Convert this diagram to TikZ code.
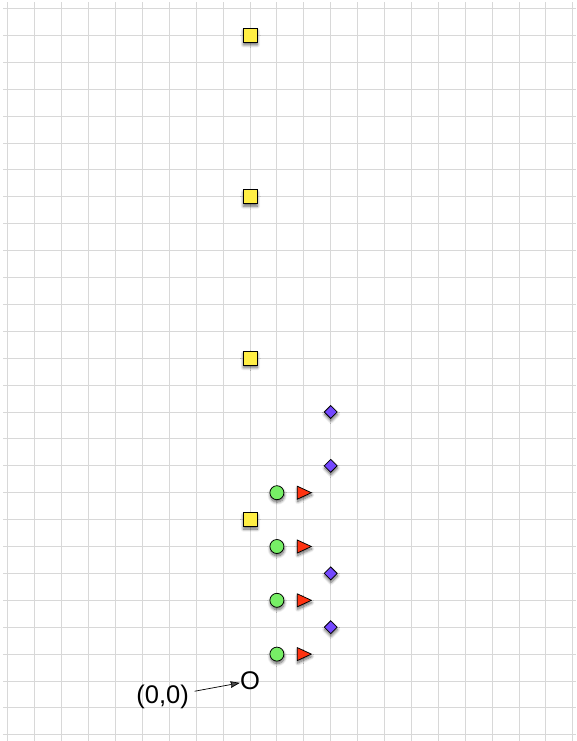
\documentclass[tikz,border=0pt]{standalone}
\usepackage{fontspec}
\setmainfont{Liberation Sans}
\usepackage{xcolor}
\definecolor{rejilla}{HTML}{D8D8D8}
\definecolor{amarillo}{HTML}{FFEE44}
\definecolor{verdeClaro}{HTML}{77EE66}
\definecolor{rojoVivo}{HTML}{FF3311}
\definecolor{morado}{HTML}{7448FF}
\usepackage{tikz}
\usetikzlibrary{arrows.meta,shadows.blur}

\begin{document}
\begin{tikzpicture}[x=1cm, y=1cm,
    every node/.style={font=\fontsize{27}{30}\selectfont},
    sombra/.style={blur shadow={shadow xshift=0.4pt, shadow yshift=-2.6pt,
        shadow blur radius=3pt, shadow blur steps=8, shadow opacity=60}},
    marca/.style={draw=black, line width=0.8pt, sombra}]

  \def\XL{-9.294}   % borde izquierdo
  \def\XR{12.119}   % borde derecho
  \def\YB{-2.230}   % borde inferior
  \def\YT{25.316}   % borde superior
  \useasboundingbox (\XL,\YB) rectangle (\XR,\YT);

  % ── Rejilla ───────────────────────────────────────────────
  \foreach \x in {-9,...,12}{
    \draw[rejilla, line width=1pt] (\x,\YB) -- (\x,25.24);
  }
  \foreach \y in {-2,...,25}{
    \draw[rejilla, line width=1pt] (-9.18,\y) -- (\XR,\y);
  }

  % ── Cuadrados ─────────────────────────────────────────────
  \foreach \y in {6,12,18,24}{
    \filldraw[marca, fill=amarillo]
      (-0.26,\y-0.26) rectangle (0.26,\y+0.26);
  }

  % ── Círculos ──────────────────────────────────────────────
  \foreach \y in {1,3,5,7}{
    \filldraw[marca, fill=verdeClaro] (1,\y) circle (0.26);
  }

  % ── Triángulos ────────────────────────────────────────────
  \foreach \y in {1,3,5,7}{
    \filldraw[marca, fill=rojoVivo]
      (1.76,\y-0.24) -- (2.28,\y) -- (1.76,\y+0.24) -- cycle;
  }

  % ── Rombos ────────────────────────────────────────────────
  \foreach \y in {2,4,8,10}{
    \filldraw[marca, fill=morado]
      (3,\y-0.24) -- (3.24,\y) -- (3,\y+0.24) -- (2.76,\y) -- cycle;
  }

  % ── Origen ────────────────────────────────────────────────
  \node[inner sep=0pt] (origen) at (0,0) {O};
  \node[inner sep=6pt] (etiqueta) at (-3.25,-0.6) {(0,0)};
  \draw[-{Stealth[length=10pt,width=7pt,inset=1pt]}, line width=0.75pt]
    (etiqueta) -- (origen);

\end{tikzpicture}
\end{document}
